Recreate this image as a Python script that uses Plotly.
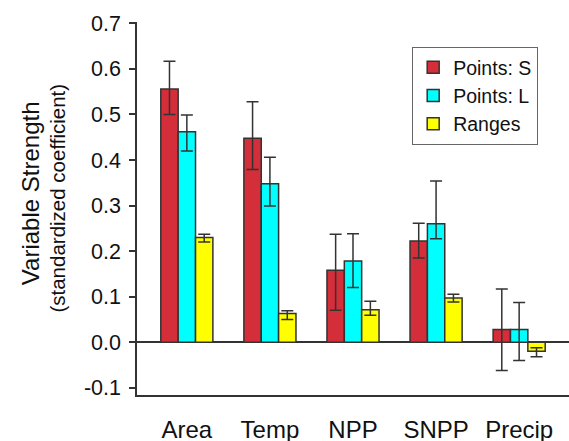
import plotly.graph_objects as go

categories = ["Area", "Temp", "NPP", "SNPP", "Precip"]
series_names = ["Points: S", "Points: L", "Ranges"]

points_s = [0.556, 0.448, 0.158, 0.222, 0.028]
points_s_err_plus = [0.061, 0.080, 0.079, 0.039, 0.089]
points_s_err_minus = [0.056, 0.069, 0.088, 0.037, 0.090]

points_l = [0.462, 0.348, 0.178, 0.260, 0.028]
points_l_err_plus = [0.037, 0.058, 0.060, 0.094, 0.059]
points_l_err_minus = [0.042, 0.049, 0.058, 0.033, 0.068]

ranges = [0.230, 0.063, 0.071, 0.097, -0.020]
ranges_err_plus = [0.007, 0.006, 0.019, 0.008, 0.008]
ranges_err_minus = [0.010, 0.013, 0.012, 0.009, 0.012]

y_ticks = [-0.1, 0.0, 0.1, 0.2, 0.3, 0.4, 0.5, 0.6, 0.7]
y_tick_labels = ["-0.1", "0.0", "0.1", "0.2", "0.3", "0.4", "0.5", "0.6", "0.7"]

colors = ["#D42E3A", "#00FFFF", "#FFFF00"]
edge = "#333333"
font_family = "Liberation Sans, Arial, sans-serif"

fig = go.Figure()
data = [
    (points_s, points_s_err_plus, points_s_err_minus),
    (points_l, points_l_err_plus, points_l_err_minus),
    (ranges, ranges_err_plus, ranges_err_minus),
]
for name, (vals, ep, em), col in zip(series_names, data, colors):
    fig.add_trace(go.Bar(
        x=categories, y=vals, name=name,
        marker=dict(color=col, line=dict(color=edge, width=1.5)),
        error_y=dict(type="data", symmetric=False, array=ep, arrayminus=em,
                     color=edge, thickness=1.5, width=6),
    ))

fig.update_layout(
    width=569, height=441,
    margin=dict(l=137, r=0, t=22, b=46, autoexpand=False),
    paper_bgcolor="white", plot_bgcolor="white",
    barmode="group", bargap=0.373, bargroupgap=0,
    font=dict(family=font_family, color="#111111", size=21),
    showlegend=True,
    legend=dict(
        x=0.637, y=0.933, xanchor="left", yanchor="top",
        bgcolor="white", bordercolor="#666666", borderwidth=1,
        font=dict(size=19.5, family=font_family, color="#111111"),
        tracegroupgap=0, itemwidth=30,
    ),
)
fig.update_xaxes(
    type="category", range=[-0.6, 4.6],
    showline=True, linecolor=edge, linewidth=1.5,
    ticks="", showgrid=False, ticklabelstandoff=12,
    tickfont=dict(size=24), automargin=False,
)
fig.update_yaxes(
    range=[-0.116, 0.703],
    tickvals=y_ticks, ticktext=y_tick_labels,
    showline=True, linecolor=edge, linewidth=1.5,
    ticks="outside", ticklen=6, tickcolor=edge, tickwidth=1.5,
    showgrid=False, zeroline=True, zerolinecolor=edge, zerolinewidth=1.5,
    tickfont=dict(size=21.5), automargin=False, ticklabelstandoff=4,
)
fig.add_annotation(
    text="Variable Strength", textangle=-90, xref="paper", yref="paper",
    x=-0.245, y=0.5416, xanchor="center", yanchor="middle", showarrow=False,
    font=dict(size=24, family=font_family, color="#111111"),
)
fig.add_annotation(
    text="(standardized coefficient)", textangle=-90, xref="paper", yref="paper",
    x=-0.184, y=0.528, xanchor="center", yanchor="middle", showarrow=False,
    font=dict(size=20.5, family=font_family, color="#111111"),
)

fig.write_html(
    "out.html",
    config={"displayModeBar": False},
    post_script="document.body.style.margin='0';document.body.style.padding='0';",
)
